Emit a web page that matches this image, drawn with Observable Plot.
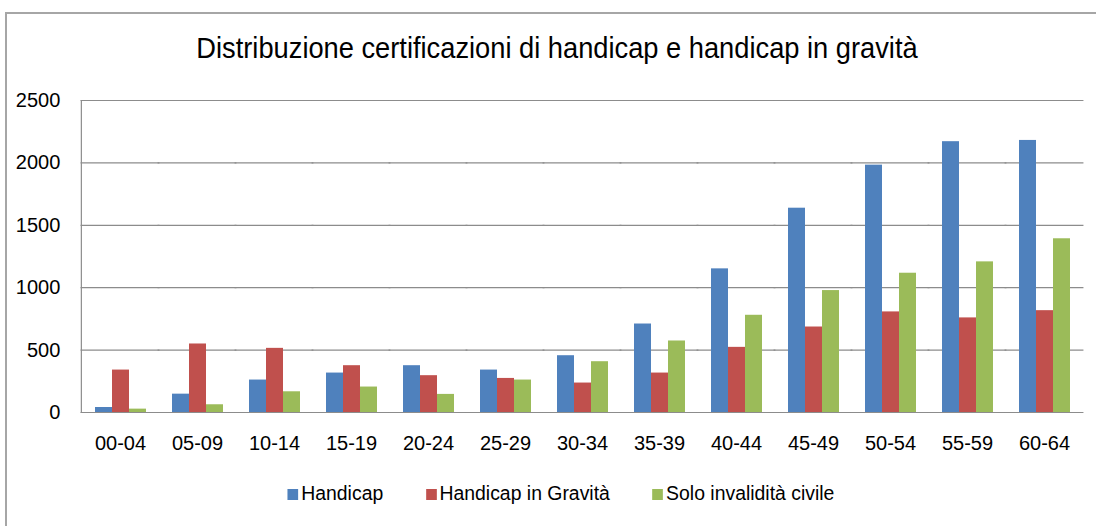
<!DOCTYPE html>
<html>
<head>
<meta charset="utf-8">
<script src="https://cdn.jsdelivr.net/npm/d3@7"></script>
<script src="https://cdn.jsdelivr.net/npm/@observablehq/plot@0.6"></script>
<style>
  html, body { margin: 0; padding: 0; background: #fff; }
  body { width: 1096px; height: 526px; position: relative; overflow: hidden;
         font-family: "Liberation Sans", Arial, sans-serif; color: #000; }
  #frame { position: absolute; left: 5px; top: 12px; width: 1200px; height: 600px;
           border-top: 2px solid #a6a6a6; border-left: 2px solid #a6a6a6; }
  #title { position: absolute; left: 0; width: 1114px; top: 30px; text-align: center;
           font-size: 29px; line-height: 36px; transform: scaleX(0.94); transform-origin: 557px 0; }
  #chart { position: absolute; left: 0; top: 80px; }
  #legend { position: absolute; left: 0; width: 1122px; top: 480px; text-align: center;
            font-size: 20px; line-height: 26px; transform: scaleX(0.97); transform-origin: 561px 0; }
  #legend span.item { display: inline-block; margin: 0 22px; }
  #legend span.sw { display: inline-block; width: 11px; height: 11px; margin-right: 3px; vertical-align: 0px; }
</style>
</head>
<body>
<div id="frame"></div>
<div id="title"></div>
<div id="chart"></div>
<div id="legend"></div>
<script>
const titleText = "Distribuzione certificazioni di handicap e handicap in gravità";
const ages = ["00-04","05-09","10-14","15-19","20-24","25-29","30-34","35-39","40-44","45-49","50-54","55-59","60-64"];
const series = ["Handicap","Handicap in Gravità","Solo invalidità civile"];
const handicap = [40,147,260,316,375,340,455,709,1151,1637,1982,2170,2180];
const gravita  = [340,549,514,375,295,273,236,316,522,685,806,758,816];
const civile   = [27,62,166,204,145,260,407,573,779,977,1116,1207,1392];
const colors = ["#4F81BD","#C0504D","#9BBB59"];
const yTicks = [0,500,1000,1500,2000,2500];

const valuesBySeries = [handicap, gravita, civile];
const data = ages.flatMap((age, i) => series.map((s, j) => ({age, series: s, value: valuesBySeries[j][i]})));

document.getElementById("title").textContent = titleText;

const W = 1096, mL = 79, mR = 11, padIn = 0.33, padOut = 0.17;
// half the gap between facet bands, so that per-facet grid lines join up
const step = (W - mL - mR) / (ages.length - padIn + 2 * padOut);
const halfGap = Math.max(step * padIn / 2, step * padOut) + 0.3;

const chart = Plot.plot({
  width: W,
  height: 377,
  marginTop: 20,
  marginBottom: 45,
  marginLeft: mL,
  marginRight: mR,
  style: {fontFamily: '"Liberation Sans", Arial, sans-serif', color: "#000", background: "transparent"},
  fx: {domain: ages, paddingInner: padIn, paddingOuter: padOut, label: null},
  x: {domain: series, padding: 0, axis: null},
  y: {domain: [0, 2500], label: null},
  color: {domain: series, range: colors},
  marks: [
    Plot.ruleY(yTicks, {stroke: "#8c8c8c", strokeWidth: 1.2, strokeOpacity: 1, insetLeft: -halfGap, insetRight: -halfGap}),
    Plot.barY(data, {fx: "age", x: "series", y: "value", fill: "series"}),
    Plot.frame({anchor: "left", facetAnchor: "left", stroke: "#8c8c8c", strokeWidth: 1.2, strokeOpacity: 1, dx: -step * padOut}),
    Plot.axisY({ticks: yTicks, tickSize: 0, tickPadding: 21 + step * padOut, fontSize: 20, label: null, tickFormat: d => String(d)}),
    Plot.axisFx({anchor: "bottom", tickSize: 0, tickPadding: 23, fontSize: 20, label: null})
  ]
});
document.getElementById("chart").appendChild(chart);

const legend = document.getElementById("legend");
series.forEach((s, i) => {
  const item = document.createElement("span");
  item.className = "item";
  const sw = document.createElement("span");
  sw.className = "sw";
  sw.style.background = colors[i];
  item.appendChild(sw);
  item.appendChild(document.createTextNode(s));
  legend.appendChild(item);
});
</script>
</body>
</html>
